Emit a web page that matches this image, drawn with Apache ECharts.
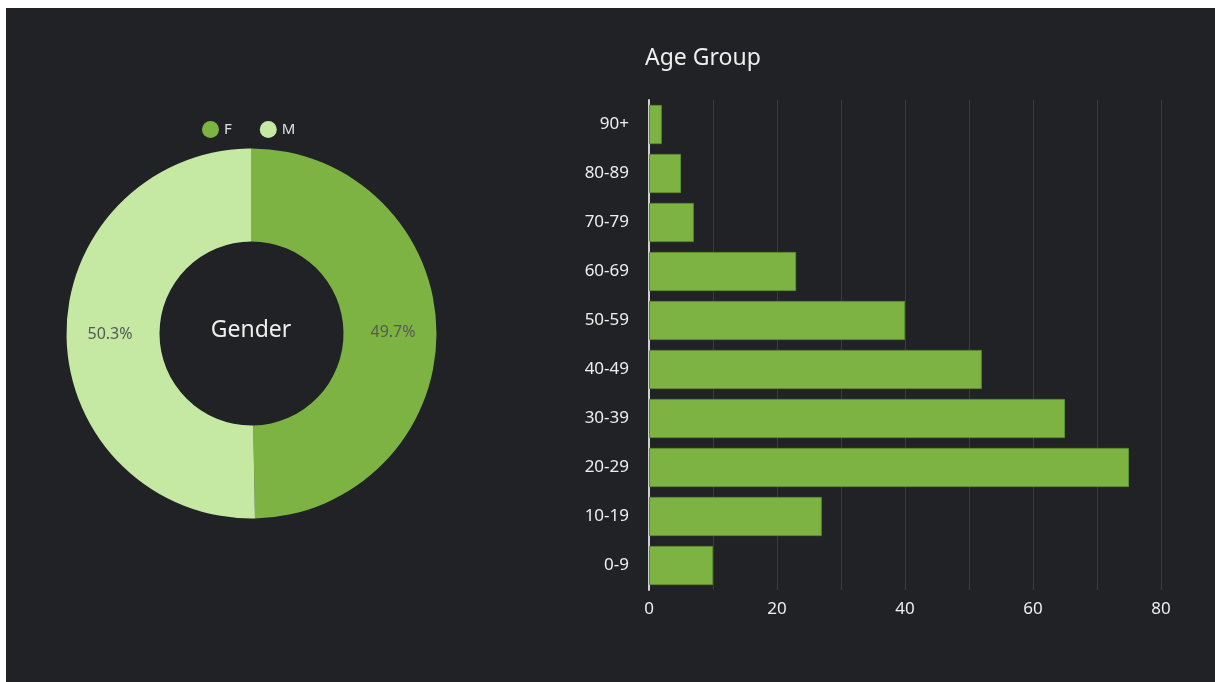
<!DOCTYPE html>
<html>
<head>
<meta charset="utf-8">
<script src="https://cdn.jsdelivr.net/npm/echarts@6/dist/echarts.min.js"></script>
<style>
html, body { margin: 0; padding: 0; background: #fff; }
#chart {
  position: absolute;
  left: 6px;
  top: 8px;
  width: 1209px;
  height: 674px;
}
</style>
</head>
<body>
<div id="chart"></div>
<script>
// gender split
var genderNames = ['F', 'M'];
var genderValues = [49.7, 50.3];

// age groups, bottom to top
var ageGroups = ['0-9', '10-19', '20-29', '30-39', '40-49', '50-59', '60-69', '70-79', '80-89', '90+'];
var ageCounts = [10, 27, 75, 65, 52, 40, 23, 7, 5, 2];

var xTicks = [0, 20, 40, 60, 80];

var myChart = echarts.init(document.getElementById('chart'));
var font = 'Noto Sans';

var option = {
  backgroundColor: '#212226',
  textStyle: { fontFamily: font },
  color: ['#7cb342', '#c5e8a3'],
  animation: false,
  title: {
    text: 'Age Group',
    left: 634,
    top: 34,
    textStyle: { color: '#eeeeee', fontSize: 23, fontWeight: 'normal', fontFamily: font }
  },
  legend: {
    data: genderNames,
    left: 191,
    top: 108,
    icon: 'circle',
    itemWidth: 17,
    itemHeight: 17,
    itemGap: 28,
    textStyle: { color: '#e0e0e0', fontSize: 15, fontFamily: font }
  },
  graphic: [{
    type: 'text',
    x: 245,
    y: 322,
    style: {
      text: 'Gender',
      fill: '#eeeeee',
      font: '23px "Noto Sans"',
      textAlign: 'center',
      textVerticalAlign: 'middle'
    }
  }],
  grid: {
    left: 643,
    top: 92,
    width: 512,
    height: 490
  },
  xAxis: {
    type: 'value',
    min: 0,
    max: 80,
    interval: 10,
    axisLine: { show: false },
    axisTick: { show: false },
    splitLine: { lineStyle: { color: '#3b3c40', width: 1 } },
    axisLabel: {
      color: '#eeeeee',
      fontSize: 17,
      margin: 11,
      formatter: function (v) {
        return xTicks.indexOf(v) >= 0 ? String(v) : '';
      }
    }
  },
  yAxis: {
    type: 'category',
    data: ageGroups,
    axisLine: { lineStyle: { color: '#d0d0d0', width: 2 } },
    axisTick: { show: false },
    axisLabel: { color: '#eeeeee', fontSize: 17, margin: 20 }
  },
  series: [
    {
      name: 'Gender',
      type: 'pie',
      center: [245.5, 325.5],
      radius: [92, 185],
      startAngle: 90,
      clockwise: true,
      label: {
        position: 'inside',
        color: '#555a55',
        fontSize: 16,
        formatter: function (p) { return p.value.toFixed(1) + '%'; }
      },
      labelLine: { show: false },
      emphasis: { disabled: true },
      data: genderNames.map(function (n, i) {
        return { name: n, value: genderValues[i] };
      })
    },
    {
      name: 'Age Group',
      type: 'bar',
      barCategoryGap: '20%',
      itemStyle: { color: '#7cb342', borderColor: '#5e8c30', borderWidth: 1 },
      data: ageCounts
    }
  ]
};
myChart.setOption(option);
</script>
</body>
</html>
